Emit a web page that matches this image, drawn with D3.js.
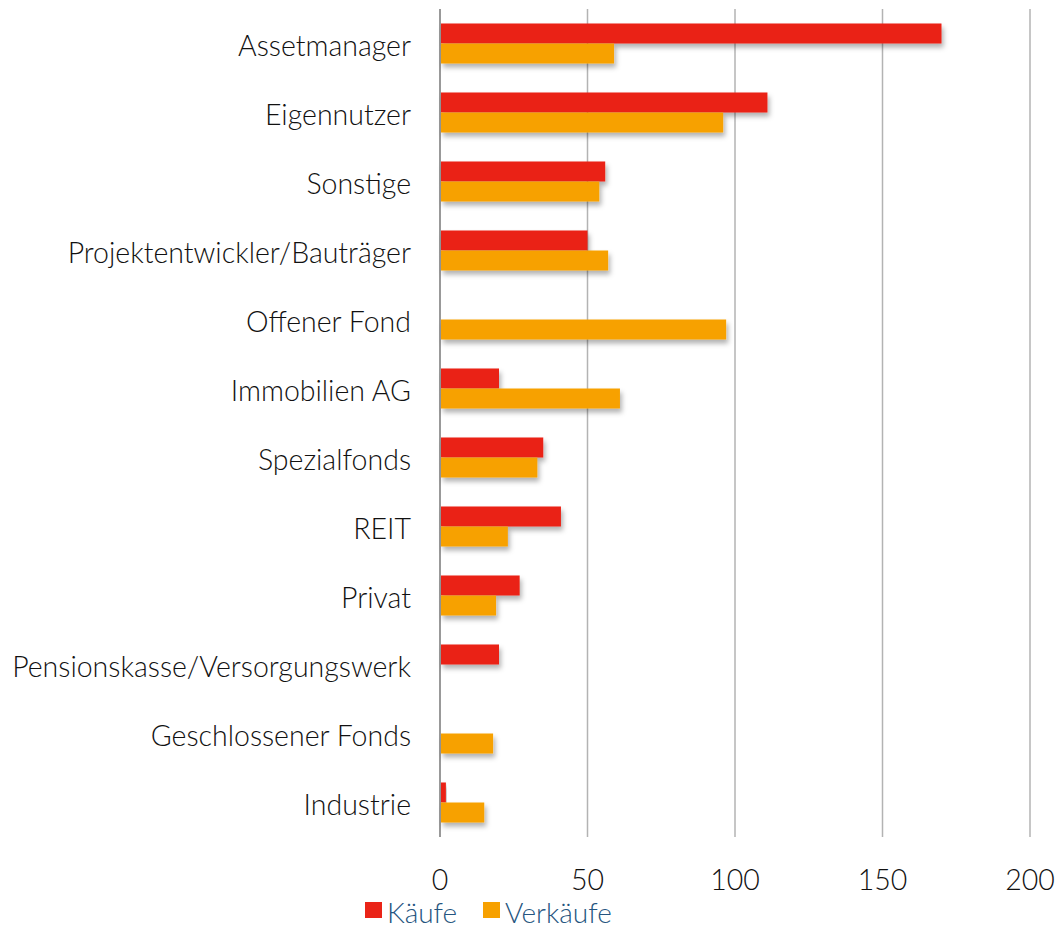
<!DOCTYPE html>
<style>
  body { margin: 0; background: #fff; }
  text { font-family: Lato, "Open Sans", sans-serif; font-weight: 300; }
  .grid line { stroke: #b3b3b3; stroke-width: 1.5px; }
  .label { fill: #111; font-size: 28.5px; }
  .legend text { fill: #255580; font-size: 28px; }
</style>
<body>
  <div id="chart"></div>
</body>
<script src="https://cdnjs.cloudflare.com/ajax/libs/d3/7.8.5/d3.min.js"></script>
<script>
  // data
  var categories = ["Assetmanager", "Eigennutzer", "Sonstige", "Projektentwickler/Bauträger",
    "Offener Fond", "Immobilien AG", "Spezialfonds", "REIT", "Privat",
    "Pensionskasse/Versorgungswerk", "Geschlossener Fonds", "Industrie"];
  var kaeufe = [170, 111, 56, 50, 0, 20, 35, 41, 27, 20, 0, 2];
  var verkaeufe = [59, 96, 54, 57, 97, 61, 33, 23, 19, 0, 18, 15];
  var seriesNames = ["Käufe", "Verkäufe"];
  var seriesColors = ["#ea2418", "#f7a100"];
  var xTicks = [0, 50, 100, 150, 200];

  var width = 1059, height = 928;
  var plot = { left: 440, right: 1030, top: 9, bottom: 837 };

  var svg = d3.select("#chart").append("svg")
    .attr("width", width)
    .attr("height", height);

  var defs = svg.append("defs");
  var f = defs.append("filter").attr("id", "shadow")
    .attr("x", "-10%").attr("y", "-30%").attr("width", "130%").attr("height", "190%");
  f.append("feDropShadow")
    .attr("dx", 2).attr("dy", 4).attr("stdDeviation", 2.5)
    .attr("flood-color", "#000").attr("flood-opacity", 0.3);

  var x = d3.scaleLinear().domain([0, 200]).range([plot.left, plot.right]);

  var y = d3.scaleBand().domain(categories)
    .range([plot.top, plot.bottom])
    .paddingInner(0.42)
    .paddingOuter(0.21);

  var ySub = d3.scaleBand().domain(seriesNames).range([0, y.bandwidth()]);

  var color = d3.scaleOrdinal().domain(seriesNames).range(seriesColors);

  // gridlines
  svg.append("g").attr("class", "grid")
    .selectAll("line")
    .data(xTicks)
    .join("line")
    .attr("x1", function (d) { return x(d); })
    .attr("x2", function (d) { return x(d); })
    .attr("y1", plot.top)
    .attr("y2", plot.bottom)
    .style("stroke", function (d) { return d === 0 ? "#999" : null; })
    .style("stroke-width", function (d) { return d === 0 ? "2px" : null; });

  // bars
  var rows = categories.map(function (c, i) {
    return { cat: c, values: [{ key: "Käufe", v: kaeufe[i] }, { key: "Verkäufe", v: verkaeufe[i] }] };
  });

  var groups = svg.append("g")
    .selectAll("g")
    .data(rows)
    .join("g")
    .attr("transform", function (d) { return "translate(0," + y(d.cat) + ")"; });

  groups.selectAll("rect")
    .data(function (d) { return d.values.filter(function (e) { return e.v > 0; }); })
    .join("rect")
    .attr("x", x(0) + 1)
    .attr("y", function (d) { return ySub(d.key); })
    .attr("width", function (d) { return x(d.v) - x(0) - 1; })
    .attr("height", ySub.bandwidth())
    .attr("fill", function (d) { return color(d.key); })
    .attr("filter", "url(#shadow)");

  // category labels
  svg.append("g")
    .selectAll("text")
    .data(categories)
    .join("text")
    .attr("class", "label")
    .attr("x", 411)
    .attr("y", function (d) { return y(d) + y.bandwidth() / 2 + 12; })
    .attr("text-anchor", "end")
    .text(function (d) { return d; });

  // x tick labels
  svg.append("g")
    .selectAll("text")
    .data(xTicks)
    .join("text")
    .attr("class", "label")
    .attr("x", function (d) { return x(d); })
    .attr("y", 890)
    .attr("text-anchor", "middle")
    .text(function (d) { return d; });

  // legend
  var legendX = [365, 483];
  var legend = svg.append("g").attr("class", "legend")
    .selectAll("g")
    .data(seriesNames)
    .join("g")
    .attr("transform", function (d, i) { return "translate(" + legendX[i] + ",902)"; });

  legend.append("rect")
    .attr("width", 17)
    .attr("height", 16)
    .attr("fill", function (d) { return color(d); });

  legend.append("text")
    .attr("x", 22)
    .attr("y", 21)
    .text(function (d) { return d; });
</script>
